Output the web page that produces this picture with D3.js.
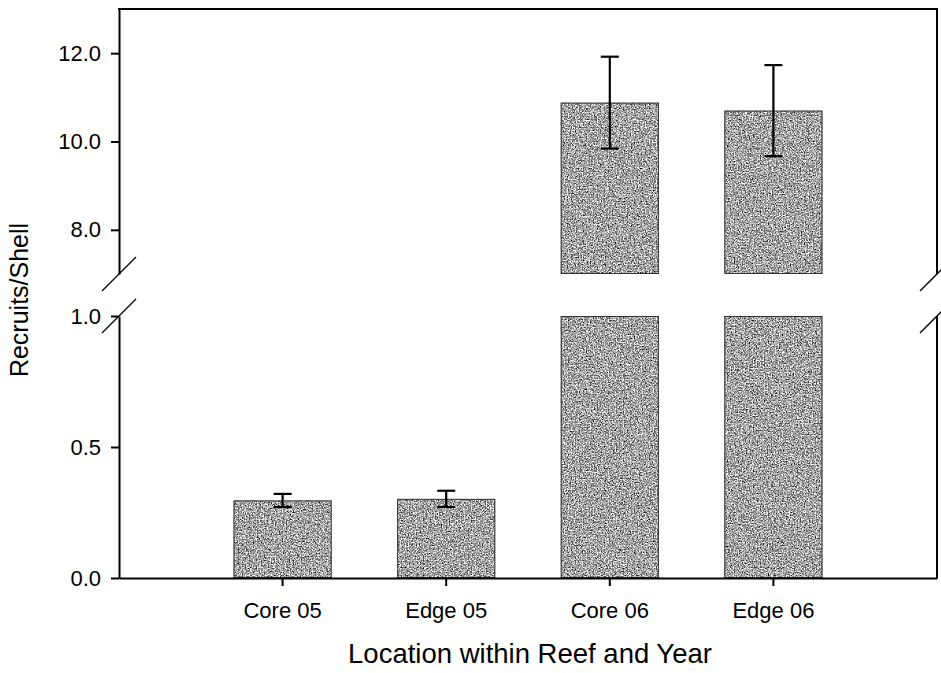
<!DOCTYPE html>
<html>
<head>
<meta charset="utf-8">
<script src="https://cdn.jsdelivr.net/npm/d3@7/dist/d3.min.js"></script>
<style>
  html, body { margin: 0; padding: 0; background: #fff; }
  svg { display: block; }
  text { font-family: "Liberation Sans", Arial, sans-serif; fill: #000; }
</style>
</head>
<body>
<svg id="chart" width="941" height="673"></svg>
<script>
// Recruits per shell, mean and standard error by reef location and year
const categories = ["Core 05", "Edge 05", "Core 06", "Edge 06"];
const means = [0.296, 0.302, 10.88, 10.70];
const errors = [0.025, 0.031, 1.04, 1.03];
const lowerTicks = [0.0, 0.5, 1.0];
const upperTicks = [8.0, 10.0, 12.0];
const lowerDomain = [0, 1.0];
const upperDomain = [7, 13];

const svg = d3.select("#chart");
const plotLeft = 119, plotRight = 937, plotTop = 9, plotBottom = 578;
const breakLow = 316, breakHigh = 274;

// Bar texture: fine grey speckle
const defs = svg.append("defs");
const f = defs.append("filter").attr("id", "speckle")
  .attr("x", 0).attr("y", 0).attr("width", 1).attr("height", 1)
  .attr("filterUnits", "objectBoundingBox")
  .attr("color-interpolation-filters", "sRGB");
f.append("feTurbulence").attr("type", "fractalNoise")
  .attr("baseFrequency", 0.73).attr("numOctaves", 3).attr("seed", 11).attr("result", "n");
f.append("feColorMatrix").attr("type", "matrix")
  .attr("values", "0.33 0.33 0.33 0 0  0.33 0.33 0.33 0 0  0.33 0.33 0.33 0 0  0 0 0 0 1")
  .attr("result", "g");
const ct = f.append("feComponentTransfer").attr("result", "c");
["feFuncR", "feFuncG", "feFuncB"].forEach(fn =>
  ct.append(fn).attr("type", "linear").attr("slope", 3.0).attr("intercept", -0.84));
f.append("feComposite").attr("in", "c").attr("in2", "SourceGraphic").attr("operator", "in");

const x = d3.scaleBand().domain(categories).range([plotLeft, plotRight])
  .paddingInner(0.4).paddingOuter(0.7);
const yLow = d3.scaleLinear().domain(lowerDomain).range([plotBottom, breakLow]);
const yHigh = d3.scaleLinear().domain(upperDomain).range([breakHigh, plotTop]);

const data = categories.map((c, i) => ({ c, v: means[i], e: errors[i] }));

// Bars in the lower panel (clipped at the break)
const barsLow = svg.append("g");
data.forEach(d => {
  const yTop = yLow(Math.min(d.v, lowerDomain[1]));
  barsLow.append("rect").attr("x", x(d.c)).attr("y", yTop)
    .attr("width", x.bandwidth()).attr("height", yLow(0) - yTop)
    .attr("fill", "#000").attr("filter", "url(#speckle)");
  barsLow.append("rect").attr("x", x(d.c) + 0.5).attr("y", yTop + 0.5)
    .attr("width", x.bandwidth() - 1).attr("height", yLow(0) - yTop - 1)
    .attr("fill", "none").attr("stroke", "#333").attr("stroke-width", 1);
});
// Bars in the upper panel
const barsHigh = svg.append("g");
data.filter(d => d.v > upperDomain[0]).forEach(d => {
  const yTop = yHigh(d.v);
  barsHigh.append("rect").attr("x", x(d.c)).attr("y", yTop)
    .attr("width", x.bandwidth()).attr("height", yHigh(upperDomain[0]) - yTop)
    .attr("fill", "#000").attr("filter", "url(#speckle)");
  barsHigh.append("rect").attr("x", x(d.c) + 0.5).attr("y", yTop + 0.5)
    .attr("width", x.bandwidth() - 1).attr("height", yHigh(upperDomain[0]) - yTop - 1)
    .attr("fill", "none").attr("stroke", "#333").attr("stroke-width", 1);
});

// Error bars
const capW = 18;
const eb = svg.append("g").attr("stroke", "#000").attr("stroke-width", 2.2);
data.forEach(d => {
  const y = d.v > upperDomain[0] ? yHigh : yLow;
  const cx = x(d.c) + x.bandwidth() / 2;
  const y1 = y(d.v - d.e), y2 = y(d.v + d.e);
  eb.append("line").attr("x1", cx).attr("x2", cx).attr("y1", y1).attr("y2", y2);
  eb.append("line").attr("x1", cx - capW / 2).attr("x2", cx + capW / 2).attr("y1", y1).attr("y2", y1);
  eb.append("line").attr("x1", cx - capW / 2).attr("x2", cx + capW / 2).attr("y1", y2).attr("y2", y2);
});

// Axes
function styleAxis(g) {
  g.selectAll("path.domain").attr("stroke", "#000").attr("stroke-width", 2);
  g.selectAll(".tick line").attr("stroke", "#000").attr("stroke-width", 2);
  g.selectAll(".tick text").attr("font-size", 22).attr("fill", "#000")
    .attr("font-family", "'Liberation Sans', Arial, sans-serif");
}
svg.append("g").attr("transform", `translate(${plotLeft},0)`)
  .call(d3.axisLeft(yLow).tickValues(lowerTicks).tickFormat(d3.format(".1f"))
    .tickSize(8).tickPadding(10).tickSizeOuter(0))
  .call(styleAxis);
svg.append("g").attr("transform", `translate(${plotLeft},0)`)
  .call(d3.axisLeft(yHigh).tickValues(upperTicks).tickFormat(d3.format(".1f"))
    .tickSize(8).tickPadding(10).tickSizeOuter(0))
  .call(styleAxis);
svg.append("g").attr("transform", `translate(0,${plotBottom})`)
  .call(d3.axisBottom(x).tickSize(8).tickPadding(16).tickSizeOuter(0))
  .call(styleAxis);

// Frame: top edge and right edge (broken)
const frame = svg.append("g").attr("stroke", "#000").attr("stroke-width", 2).attr("fill", "none");
frame.append("line").attr("x1", plotLeft - 1).attr("x2", plotRight + 1).attr("y1", plotTop).attr("y2", plotTop);
frame.append("line").attr("x1", plotRight).attr("x2", plotRight).attr("y1", plotTop).attr("y2", breakHigh);
frame.append("line").attr("x1", plotRight).attr("x2", plotRight).attr("y1", breakLow).attr("y2", plotBottom);

// Break marks on both vertical edges
const brk = svg.append("g").attr("stroke", "#000").attr("stroke-width", 1.3);
[plotLeft, plotRight].forEach(ex => {
  [breakHigh, breakLow].forEach(ey => {
    brk.append("line").attr("x1", ex - 17).attr("y1", ey + 17)
      .attr("x2", ex + 17).attr("y2", ey - 17);
  });
});

// Axis titles
svg.append("text").attr("x", (plotLeft + plotRight) / 2 + 2).attr("y", 663)
  .attr("text-anchor", "middle").attr("font-size", 27.5)
  .text("Location within Reef and Year");
svg.append("text").attr("transform", "translate(28,300) rotate(-90)")
  .attr("text-anchor", "middle").attr("font-size", 25)
  .text("Recruits/Shell");
</script>
</body>
</html>
